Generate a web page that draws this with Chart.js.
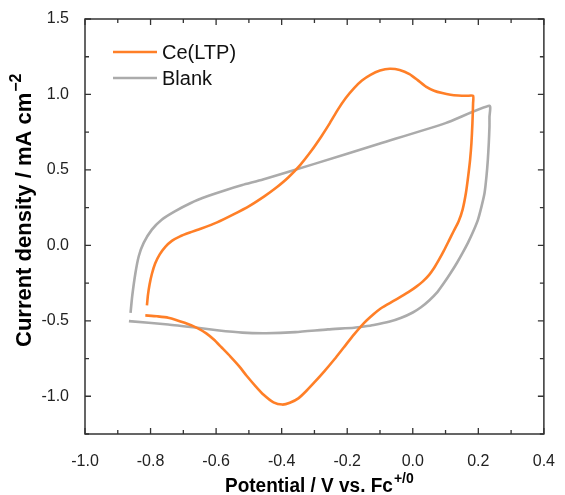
<!DOCTYPE html>
<html>
<head>
<meta charset="utf-8">
<script src="https://cdn.jsdelivr.net/npm/chart.js@4/dist/chart.umd.min.js"></script>
<style>
  html, body { margin: 0; padding: 0; background: #fff; }
  #wrap { width: 565px; height: 495px; }
</style>
</head>
<body>
<div id="wrap"><canvas id="cv" width="565" height="495"></canvas></div>
<script>
// ── Data ─────────────────────────────────────
const xTicks = [-1.0, -0.8, -0.6, -0.4, -0.2, 0.0, 0.2, 0.4];
const xMinor = [-0.9, -0.7, -0.5, -0.3, -0.1, 0.1, 0.3];
const yTicks = [-1.0, -0.5, 0.0, 0.5, 1.0, 1.5];
const yMinor = [-1.25, -0.75, -0.25, 0.25, 0.75, 1.25];

const seriesNames = ['Ce(LTP)', 'Blank'];

// Ce(LTP): forward scan then reverse scan
const ceX = [-0.811, -0.808, -0.803, -0.796, -0.786, -0.772, -0.755, -0.735, -0.71, -0.68, -0.647, -0.597, -0.547, -0.498, -0.453, -0.418, -0.38, -0.343, -0.31, -0.279, -0.253, -0.229, -0.205, -0.179, -0.155, -0.129, -0.10, -0.070, -0.04, -0.010, 0.015, 0.040, 0.065, 0.090, 0.115, 0.139, 0.165, 0.184,
             0.184, 0.182, 0.179, 0.175, 0.169, 0.162, 0.152, 0.14, 0.125, 0.11, 0.095, 0.08, 0.065, 0.05, 0.03, 0.01, -0.01, -0.035, -0.06, -0.08, -0.099, -0.119, -0.149, -0.179, -0.21, -0.239, -0.27, -0.299, -0.325, -0.348, -0.375, -0.398, -0.425, -0.455, -0.48, -0.507, -0.53, -0.557, -0.583, -0.607, -0.63, -0.657, -0.696, -0.746, -0.78, -0.816];
const ceY = [-0.398, -0.33, -0.26, -0.19, -0.12, -0.06, -0.01, 0.03, 0.06, 0.085, 0.11, 0.152, 0.205, 0.262, 0.325, 0.380, 0.45, 0.534, 0.625, 0.722, 0.81, 0.898, 0.975, 1.042, 1.092, 1.130, 1.158, 1.170, 1.162, 1.135, 1.095, 1.052, 1.025, 1.009, 0.998, 0.993, 0.991, 0.991,
             0.942, 0.81, 0.678, 0.57, 0.457, 0.345, 0.237, 0.16, 0.095, 0.03, -0.035, -0.095, -0.15, -0.195, -0.24, -0.275, -0.305, -0.338, -0.37, -0.395, -0.42, -0.455, -0.515, -0.59, -0.675, -0.755, -0.835, -0.905, -0.965, -1.012, -1.043, -1.055, -1.04, -0.99, -0.932, -0.864, -0.80, -0.735, -0.677, -0.624, -0.583, -0.548, -0.513, -0.479, -0.47, -0.464];

// Blank: forward scan then reverse scan
const blankX = [-0.861, -0.856, -0.846, -0.836, -0.821, -0.796, -0.766, -0.726, -0.677, -0.627, -0.567, -0.52, -0.457, -0.3, -0.1, 0.1, 0.234,
                0.234, 0.234, 0.232, 0.229, 0.225, 0.219, 0.21, 0.199, 0.185, 0.169, 0.152, 0.135, 0.115, 0.095, 0.075, 0.05, 0.025, 0.0, -0.035, -0.07, -0.119, -0.149, -0.179, -0.259, -0.358, -0.448, -0.520, -0.597, -0.657, -0.746, -0.866];
const blankY = [-0.447, -0.337, -0.182, -0.072, 0.016, 0.104, 0.170, 0.225, 0.281, 0.325, 0.369, 0.40, 0.437, 0.54, 0.675, 0.81, 0.925,
                0.85, 0.788, 0.68, 0.567, 0.46, 0.347, 0.26, 0.171, 0.095, 0.02, -0.05, -0.115, -0.185, -0.25, -0.31, -0.365, -0.41, -0.445, -0.48, -0.505, -0.528, -0.538, -0.546, -0.557, -0.575, -0.582, -0.578, -0.562, -0.546, -0.524, -0.502];

const colors = ['#ff7f27', '#ababab'];

function pts(xs, ys) { return xs.map((x, i) => ({ x, y: ys[i] })); }

// ── Helpers ──────────────────────────────────
const FONT = '"Liberation Sans", Arial, sans-serif';

// draw text with superscript, starting at x, baseline y
function drawSup(ctx, main, sup, x, y, size) {
    ctx.font = `bold ${size}px ${FONT}`;
    ctx.fillText(main, x, y);
    const w = ctx.measureText(main).width;
    ctx.font = `bold ${Math.round(size * 0.74)}px ${FONT}`;
    ctx.fillText(sup, x + w + 1, y - size * 0.45);
}

// ── Plugins ──────────────────────────────────
const framePlugin = {
    id: 'frame',
    afterDatasetsDraw(chart) {
        const { ctx, chartArea: a, scales } = chart;
        ctx.save();
        ctx.strokeStyle = '#333';
        ctx.lineWidth = 1.5;
        ctx.strokeRect(a.left, a.top, a.right - a.left, a.bottom - a.top);
        ctx.lineWidth = 1.3;
        ctx.beginPath();
        const tick = (vals, len) => {
            vals.forEach(v => {
                const px = scales.x.getPixelForValue(v);
                ctx.moveTo(px, a.bottom); ctx.lineTo(px, a.bottom - len);
                ctx.moveTo(px, a.top); ctx.lineTo(px, a.top + len);
            });
        };
        const tickY = (vals, len) => {
            vals.forEach(v => {
                const py = scales.y.getPixelForValue(v);
                ctx.moveTo(a.left, py); ctx.lineTo(a.left + len, py);
                ctx.moveTo(a.right, py); ctx.lineTo(a.right - len, py);
            });
        };
        tick(xTicks, 6); tick(xMinor, 4);
        tickY(yTicks, 6); tickY(yMinor, 4);
        ctx.stroke();

        // legend
        const ds = chart.data.datasets;
        ds.forEach((d, i) => {
            const y = a.top + 33 + i * 26;
            ctx.strokeStyle = d.borderColor;
            ctx.lineWidth = 2.5;
            ctx.beginPath();
            ctx.moveTo(a.left + 28, y); ctx.lineTo(a.left + 72, y);
            ctx.stroke();
            ctx.fillStyle = '#111';
            ctx.font = `20px ${FONT}`;
            ctx.textBaseline = 'middle';
            ctx.fillText(d.label, a.left + 77, y + 1);
        });

        // axis titles
        ctx.fillStyle = '#000';
        ctx.textBaseline = 'alphabetic';
        ctx.save();
        ctx.translate(225, 492);
        ctx.scale(1, 1.1);
        drawSup(ctx, 'Potential / V vs. Fc', '+/0', 0, 0, 19);
        ctx.restore();

        ctx.translate(31, 347);
        ctx.rotate(-Math.PI / 2);
        drawSup(ctx, 'Current density / mA cm', '\u22122', 0, 0, 22);
        ctx.restore();
    }
};

// ── Chart ────────────────────────────────────
new Chart(document.getElementById('cv'), {
    type: 'scatter',
    data: {
        datasets: [
            { label: seriesNames[0], data: pts(ceX, ceY), borderColor: colors[0], backgroundColor: colors[0] },
            { label: seriesNames[1], data: pts(blankX, blankY), borderColor: colors[1], backgroundColor: colors[1] },
        ],
    },
    options: {
        responsive: false,
        animation: false,
        showLine: true,
        elements: {
            point: { radius: 0 },
            line: { borderWidth: 2.6, tension: 0.2, fill: false },
        },
        layout: { padding: { top: 19, right: 11, left: 0, bottom: 0 } },
        plugins: { legend: { display: false }, tooltip: { enabled: false } },
        scales: {
            x: {
                type: 'linear', min: -1.0, max: 0.4,
                afterBuildTicks: s => { s.ticks = xTicks.map(v => ({ value: v })); },
                afterFit: s => { s.height = 61; },
                grid: { display: false },
                border: { display: false },
                ticks: { color: '#222', padding: 10, font: { family: FONT, size: 16 }, callback: v => v.toFixed(1) },
            },
            y: {
                type: 'linear', min: -1.25, max: 1.5,
                afterBuildTicks: s => { s.ticks = yTicks.map(v => ({ value: v })); },
                afterFit: s => { s.width = 85; },
                grid: { display: false },
                border: { display: false },
                ticks: { color: '#222', padding: 8, font: { family: FONT, size: 16 }, callback: v => v.toFixed(1) },
            },
        },
    },
    plugins: [framePlugin],
});
</script>
</body>
</html>
